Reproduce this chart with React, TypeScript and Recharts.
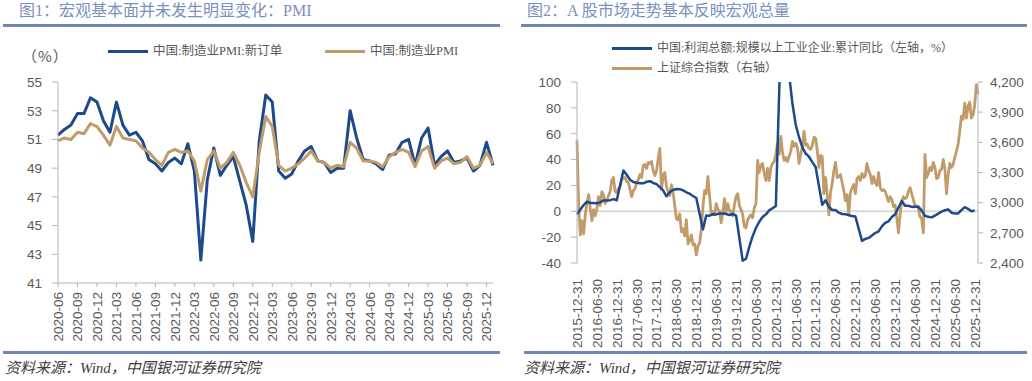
import React from 'react';
import { LineChart, Line, XAxis, YAxis, ReferenceLine } from 'recharts';

// 图1 — PMI，2020-06 ~ 2026-01，月度
const pmiStart = { year: 2020, month: 6 };
const pmiNewOrders = [
  51.3, 51.7, 52.0, 52.8, 52.8, 53.9, 53.6,
  52.3, 51.5, 53.6, 52.0, 51.3, 51.5, 50.9, 49.6, 49.3, 48.8, 49.4, 49.7,
  49.3, 50.7, 48.8, 42.6, 48.2, 50.4, 48.5, 49.2, 49.8, 48.1, 46.4, 43.9,
  50.9, 54.1, 53.6, 48.8, 48.3, 48.6, 49.5, 50.2, 50.5, 49.5, 49.4, 48.7,
  49.0, 49.0, 53.0, 51.1, 49.6, 49.5, 49.3, 48.9, 49.9, 50.0, 50.8, 51.0,
  49.2, 51.1, 51.8, 49.2, 49.8, 50.2, 49.4, 49.5, 49.7, 48.8, 49.2, 50.8,
  49.2,
];
const pmiTotal = [
  50.9, 51.1, 51.0, 51.5, 51.4, 52.1, 51.9,
  51.3, 50.6, 51.9, 51.1, 51.0, 50.9, 50.4, 50.1, 49.6, 49.2, 50.1, 50.3,
  50.1, 50.2, 49.5, 47.4, 49.6, 50.2, 49.0, 49.4, 50.1, 49.2, 48.0, 47.0,
  50.1, 52.6, 51.9, 49.2, 48.8, 49.0, 49.3, 49.7, 50.2, 49.5, 49.4, 49.0,
  49.2, 49.1, 50.8, 50.4, 49.5, 49.5, 49.4, 49.1, 49.8, 50.1, 50.3, 50.1,
  49.1, 50.2, 50.5, 49.0, 49.5, 49.7, 49.3, 49.4, 49.8, 49.0, 49.2, 50.1,
  49.3,
];
const pmiTicks = [41, 43, 45, 47, 49, 51, 53, 55];

// 图2 — 工业企业利润累计同比（月度，2015-12 ~ 2025-12，1月无数据）
const profitYoY = [
  -2.3,
  null, 4.8, 7.4, 6.5, 6.4, 6.2, 6.9, 8.4, 8.4, 8.6, 9.4, 8.5,
  null, 31.5, 28.3, 24.4, 22.7, 22.0, 21.6, 21.6, 22.8, 23.3, 21.9, 21.0,
  null, 16.1, 11.6, 15.0, 16.5, 17.2, 17.1, 16.2, 14.7, 13.6, 11.8, 10.3,
  null, -14.0, -3.3, -3.4, -2.3, -2.4, -1.7, -1.7, -2.1, -2.9, -2.1, -3.3,
  null, -38.3, -36.7, -27.4, -19.3, -12.8, -8.1, -4.4, -2.4, 0.7, 2.4, 4.1,
  null, 178.9, 137.3, 106.0, 83.4, 66.9, 57.3, 49.5, 44.7, 42.2, 38.0, 34.3,
  null, 5.0, 8.5, 3.5, 1.0, 1.0, -1.1, -2.1, -2.3, -3.0, -3.6, -4.0,
  null, -22.9, -21.4, -20.6, -18.8, -16.8, -15.5, -11.7, -9.0, -7.8, -4.4, -2.3,
  null, 8.0, 4.3, 4.3, 3.4, 3.5, 3.6, 0.5, -3.5, -4.3, -4.7, -3.3,
  null, -0.3, 0.8, 1.4, -1.1, -1.8, -1.7, 0.9, 3.2, 1.9, 0.1, 0.6,
];

// 上证综合指数，每半月一个点（从 2015-12-31 开始）
const sseIndex = [
  3620,
  2980, 2680, 2820, 2690, 2880, 3000, 3080, 2940, 2820, 2930, 2870, 2940,
  3060, 2970, 3110, 3080, 2990, 3020, 3070, 3110, 3220, 3250, 3110, 3100,
  3140, 3160, 3230, 3250, 3250, 3210, 3200, 3130, 3060, 3120, 3140, 3200,
  3230, 3280, 3250, 3370, 3380, 3340, 3400, 3390, 3410, 3320, 3270, 3320,
  3440, 3540, 3130, 3270, 3300, 3160, 3110, 3070, 3180, 3100, 2970, 2840,
  2830, 2890, 2710, 2740, 2670, 2830, 2590, 2620, 2680, 2580, 2590, 2480,
  2570, 2600, 2730, 2960, 3120, 3090, 3260, 3070, 2890, 2910, 2880, 2990,
  2930, 2920, 2800, 2900, 3040, 2910, 2990, 2920, 2910, 2870, 2980, 3060,
  3090, 2970, 2930, 2880, 2760, 2750, 2830, 2860, 2880, 2850, 2950, 2990,
  3420, 3300, 3370, 3390, 3290, 3220, 3340, 3220, 3350, 3390, 3410, 3480,
  3590, 3480, 3660, 3500, 3420, 3450, 3410, 3460, 3510, 3610, 3560, 3590,
  3550, 3390, 3480, 3550, 3710, 3570, 3580, 3540, 3530, 3570, 3650, 3640,
  3520, 3350, 3470, 3460, 3090, 3250, 3080, 2880, 3100, 3190, 3320, 3400,
  3250, 3260, 3280, 3200, 3120, 3020, 3080, 2880, 3100, 3150, 3180, 3090,
  3240, 3260, 3220, 3290, 3250, 3270, 3390, 3320, 3280, 3190, 3260, 3200,
  3170, 3300, 3150, 3120, 3130, 3110, 3060, 3010, 3060, 3030, 2960, 2975,
  2850, 2700, 2880, 3015, 3060, 3040, 3050, 3110, 3150, 3090, 3030, 2960,
  2970, 2940, 2860, 2840, 2700, 3480, 3250, 3290, 3350, 3320, 3400, 3350,
  3240, 3250, 3320, 3330, 3430, 3340, 3090, 3280, 3390, 3350, 3380, 3450,
  3510, 3580, 3710, 3860, 3830, 3990, 3840, 3960, 4000, 3840, 3870, 3970,
  4170, 4080,
];
const leftTicks2 = [-40, -20, 0, 20, 40, 60, 80, 100];
const rightTicks2 = [2400, 2700, 3000, 3300, 3600, 3900, 4200];
const dateTicks2 = [0, 6, 12, 18, 24, 30, 36, 42, 48, 54, 60, 66, 72, 78, 84, 90, 96, 102, 108, 114, 120];

const BLUE = '#1c4a8b';
const TAN = '#c19b6a';
const AXIS = '#b4b4b4';
const TEXT = '#595959';
const SANS = "'Liberation Sans', Arial, sans-serif";
const SERIF = "'Liberation Serif', 'Noto Sans CJK SC', serif";

const pmiData = pmiNewOrders.map((v, i) => {
  const m = pmiStart.month - 1 + i;
  const y = pmiStart.year + Math.floor(m / 12);
  return { month: `${y}-${String((m % 12) + 1).padStart(2, '0')}`, newOrders: v, pmi: pmiTotal[i] };
});
const profitData = profitYoY.map((v, i) => ({ x: i, v }));
const sseData = sseIndex.map((v, i) => ({ x: i * 0.5, v }));

const fmtDate = (t: number) =>
  t % 12 === 0 ? `${2015 + t / 12}-12-31` : `${2016 + (t - 6) / 12}-06-30`;

const RotTick = (props: any) => {
  const { x, y, payload, fmt } = props;
  const label = fmt ? fmt(payload.value) : payload.value;
  return (
    <g transform={`translate(${x},${y})`}>
      <text transform="rotate(-90)" textAnchor="end" dy="0.36em" fontSize={13.5} fill={TEXT} fontFamily={SANS}>
        {label}
      </text>
    </g>
  );
};

const tickStyle = { fontSize: 13.5, fill: TEXT, fontFamily: SANS };

const LegendItem = ({ left, top, color, label, size = 12.5 }: any) => (
  <div style={{ position: 'absolute', left, top, display: 'flex', alignItems: 'center', whiteSpace: 'nowrap' }}>
    <div style={{ width: 40, height: 3, background: color, marginRight: 5 }} />
    <span style={{ fontSize: size, color: TEXT, fontFamily: SERIF, lineHeight: '16px' }}>{label}</span>
  </div>
);

const Rule = ({ left, top, width }: any) => (
  <div style={{ position: 'absolute', left, top, width, height: 3, background: '#6f87b6' }} />
);

const Title = ({ left, text }: any) => (
  <div style={{ position: 'absolute', left, top: 1, fontSize: 16, color: '#7b90bd', fontFamily: SERIF, lineHeight: '20px', whiteSpace: 'nowrap' }}>
    {text}
  </div>
);

const Source = ({ left }: any) => (
  <div style={{ position: 'absolute', left, top: 358, fontSize: 15, color: '#404040', fontStyle: 'italic', fontFamily: SERIF, lineHeight: '20px', whiteSpace: 'nowrap' }}>
    资料来源：Wind，中国银河证券研究院
  </div>
);

export default function App() {
  return (
    <div style={{ position: 'absolute', left: 0, top: 0, width: 1032, height: 381, background: '#fff', overflow: 'hidden' }}>
      <Title left={19} text="图1：宏观基本面并未发生明显变化：PMI" />
      <Title left={527} text="图2：A 股市场走势基本反映宏观总量" />
      <Rule left={3} top={24} width={497} />
      <Rule left={521} top={24} width={506} />
      <Rule left={3} top={351} width={497} />
      <Rule left={524} top={351} width={503} />
      <Source left={5} />
      <Source left={524} />

      {/* 图1 */}
      <div style={{ position: 'absolute', left: 22, top: 46, fontSize: 15, color: TEXT, fontFamily: "'Noto Sans CJK SC', sans-serif", lineHeight: '20px', letterSpacing: 1 }}>（%）</div>
      <LegendItem left={108} top={43} color={BLUE} label="中国:制造业PMI:新订单" />
      <LegendItem left={325} top={43} color={TAN} label="中国:制造业PMI" />
      <div style={{ position: 'absolute', left: 0, top: 0 }}>
        <LineChart width={516} height={381} data={pmiData} margin={{ top: 82, right: 23, bottom: 38, left: 18 }}>
          <XAxis
            dataKey="month"
            interval={2}
            height={60}
            tickSize={4}
            tickMargin={5}
            stroke={AXIS}
            tick={<RotTick />}
          />
          <YAxis
            domain={[41, 55]}
            ticks={pmiTicks}
            interval={0}
            width={40}
            tickSize={6}
            tickMargin={10}
            stroke={AXIS}
            tick={tickStyle}
          />
          <Line dataKey="newOrders" stroke={BLUE} strokeWidth={3} dot={false} isAnimationActive={false} strokeLinejoin="round" />
          <Line dataKey="pmi" stroke={TAN} strokeWidth={3} dot={false} isAnimationActive={false} strokeLinejoin="round" />
        </LineChart>
      </div>

      {/* 图2 */}
      <LegendItem left={612} top={40} color={BLUE} size={12} label="中国:利润总额:规模以上工业企业:累计同比（左轴，%）" />
      <LegendItem left={612} top={60} color={TAN} size={12} label="上证综合指数（右轴）" />
      <div style={{ position: 'absolute', left: 516, top: 0 }}>
        <LineChart width={516} height={381} margin={{ top: 82, right: 4, bottom: 48, left: 17 }}>
          <XAxis
            type="number"
            dataKey="x"
            domain={[0, 121]}
            ticks={dateTicks2}
            interval={0}
            height={70}
            axisLine={false}
            tickLine={false}
            tickMargin={10}
            tick={<RotTick fmt={fmtDate} />}
          />
          <YAxis
            yAxisId="left"
            domain={[-40, 100]}
            ticks={leftTicks2}
            interval={0}
            allowDataOverflow
            width={44}
            tickSize={6}
            tickMargin={10}
            stroke={AXIS}
            tick={tickStyle}
          />
          <YAxis
            yAxisId="right"
            orientation="right"
            domain={[2400, 4200]}
            ticks={rightTicks2}
            interval={0}
            width={50}
            tickSize={5}
            tickMargin={7}
            stroke={AXIS}
            tick={tickStyle}
            tickFormatter={(v: number) => v.toLocaleString('en-US')}
          />
          <ReferenceLine yAxisId="left" y={0} stroke="#d9d9d9" strokeWidth={2} />
          <Line data={sseData} dataKey="v" yAxisId="right" stroke={TAN} strokeWidth={2.8} dot={false} isAnimationActive={false} strokeLinejoin="round" />
          <Line data={profitData} dataKey="v" yAxisId="left" stroke={BLUE} strokeWidth={2.5} dot={false} connectNulls isAnimationActive={false} strokeLinejoin="round" />
        </LineChart>
      </div>
    </div>
  );
}
